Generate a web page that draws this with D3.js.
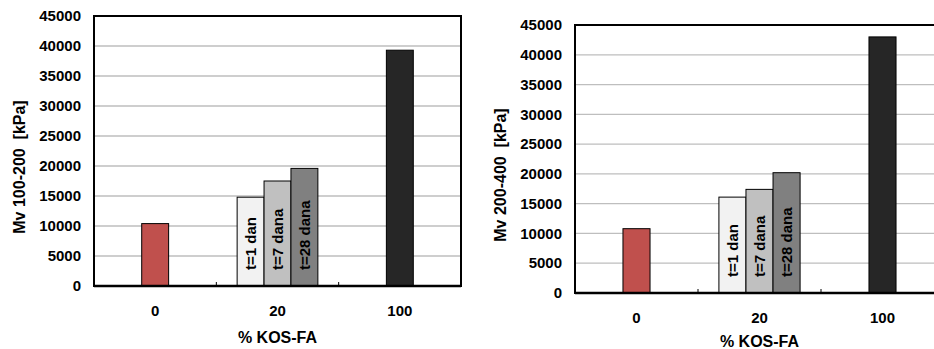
<!DOCTYPE html>
<html>
<head>
<meta charset="utf-8">
<script src="https://cdn.jsdelivr.net/npm/d3@7"></script>
<style>
  body { margin: 0; background: #fff; }
  text { font-family: "Liberation Sans", Arial, sans-serif; font-weight: bold; }
</style>
</head>
<body>
<script>
let categories = ["0", "20", "100"]
let singleCats = ["0", "100"]
let ageLabels = ["t=1 dan", "t=7 dana", "t=28 dana"]
let yTicks = [0, 5000, 10000, 15000, 20000, 25000, 30000, 35000, 40000, 45000]

let mv100_200_single = [10400, 39300]
let mv100_200_aged = [14800, 17500, 19600]
let mv200_400_single = [10800, 43000]
let mv200_400_aged = [16100, 17400, 20200]

let singleColors = ["#C0504D", "#262626"]
let agedColors = ["#F2F2F2", "#C0C0C0", "#808080"]

let svg = d3.select("body").append("svg")
    .attr("width", 934)
    .attr("height", 349)

function createGraph(o) {
    let g = svg.append("g").attr("transform", "translate(" + o.left + "," + o.top + ")")

    let x = d3.scaleBand().domain(categories).range([0, o.width])
    let y = d3.scaleLinear().domain([0, 45000]).range([o.height, 0])
    let bw = x.bandwidth() * 0.22
    let cx = x("20") + x.bandwidth() / 2
    let x1 = d3.scaleBand().domain(ageLabels).range([cx - 1.5 * bw, cx + 1.5 * bw])

    // gridlines
    g.selectAll(".grid").data(yTicks.slice(1))
        .enter().append("line")
        .attr("x1", 0).attr("x2", o.width)
        .attr("y1", d => y(d)).attr("y2", d => y(d))
        .attr("stroke", "#BEBEBE").attr("stroke-width", 1.3)

    // y tick labels
    g.selectAll(".ylab").data(yTicks)
        .enter().append("text")
        .attr("x", -13).attr("y", d => y(d))
        .attr("dy", "0.35em")
        .attr("text-anchor", "end")
        .attr("font-size", 15)
        .text(d => d)

    // single bars
    g.selectAll(".single").data(singleCats)
        .enter().append("rect")
        .attr("x", d => x(d) + x.bandwidth() / 2 - bw / 2)
        .attr("width", bw)
        .attr("y", (d, i) => y(o.single[i]))
        .attr("height", (d, i) => o.height - y(o.single[i]))
        .attr("fill", (d, i) => singleColors[i])
        .attr("stroke", "#000").attr("stroke-width", 1)

    // aged bars
    g.selectAll(".aged").data(ageLabels)
        .enter().append("rect")
        .attr("x", d => x1(d))
        .attr("width", x1.bandwidth())
        .attr("y", (d, i) => y(o.aged[i]))
        .attr("height", (d, i) => o.height - y(o.aged[i]))
        .attr("fill", (d, i) => agedColors[i])
        .attr("stroke", "#000").attr("stroke-width", 1)

    g.selectAll(".agedlab").data(ageLabels)
        .enter().append("text")
        .attr("transform", d => "translate(" + (x1(d) + x1.bandwidth() / 2) + "," + (o.height - 16) + ") rotate(-90)")
        .attr("dy", "0.36em")
        .attr("font-size", 15)
        .attr("fill", "#000")
        .text(d => d)

    // frame
    g.append("rect")
        .attr("width", o.width).attr("height", o.height)
        .attr("fill", "none").attr("stroke", "#000").attr("stroke-width", 2)
    g.append("line")
        .attr("x1", 0).attr("x2", o.width)
        .attr("y1", o.height).attr("y2", o.height)
        .attr("stroke", "#000").attr("stroke-width", 2.5)

    // category separator ticks
    g.selectAll(".tick").data(categories.slice(1))
        .enter().append("line")
        .attr("x1", d => x(d)).attr("x2", d => x(d))
        .attr("y1", o.height).attr("y2", o.height - 4)
        .attr("stroke", "#000").attr("stroke-width", 1)

    // x labels
    g.selectAll(".xlab").data(categories)
        .enter().append("text")
        .attr("x", d => x(d) + x.bandwidth() / 2)
        .attr("y", o.height + 25)
        .attr("dy", "0.35em")
        .attr("text-anchor", "middle")
        .attr("font-size", 15)
        .text(d => d)

    g.append("text")
        .attr("x", x("20") + x.bandwidth() / 2)
        .attr("y", Math.min(o.height + 51, 349 - o.top - 8))
        .attr("dy", "0.35em")
        .attr("text-anchor", "middle")
        .attr("font-size", 16)
        .text("% KOS-FA")

    g.append("text")
        .attr("transform", "translate(-75," + (o.height / 2 + 16) + ") rotate(-90)")
        .attr("dy", "0.35em")
        .attr("text-anchor", "middle")
        .attr("font-size", 16)
        .attr("xml:space", "preserve")
        .text(o.title)
}

createGraph({left: 94, top: 16, width: 367, height: 270,
    single: mv100_200_single, aged: mv100_200_aged, title: "Mv 100-200  [kPa]"})
createGraph({left: 575, top: 25, width: 369, height: 268,
    single: mv200_400_single, aged: mv200_400_aged, title: "Mv 200-400  [kPa]"})
</script>
</body>
</html>
